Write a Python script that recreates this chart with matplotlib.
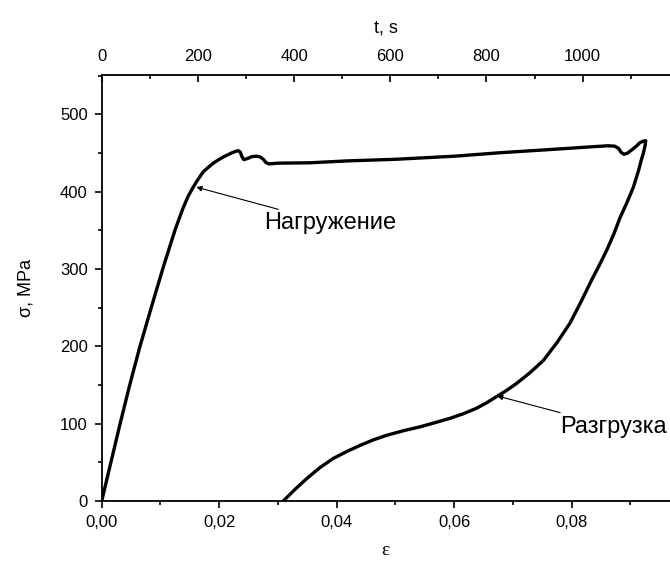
import matplotlib
matplotlib.use("Agg")
import matplotlib.pyplot as plt
from matplotlib.ticker import MultipleLocator, FuncFormatter

# Strain (ε) and stress (σ, MPa) along the loading-unloading path
strain = [0.0, 0.0015, 0.0031, 0.0047, 0.0064, 0.0085, 0.0105, 0.0125, 0.0138,
          0.0147, 0.0155, 0.0163, 0.0173, 0.0182, 0.0190, 0.0198, 0.0207, 0.0215,
          0.0222, 0.0229, 0.0233, 0.0236, 0.0239, 0.0242, 0.0248, 0.0256, 0.0264,
          0.0270, 0.0275, 0.0280, 0.0285, 0.0292, 0.0300, 0.0355, 0.0420, 0.0500,
          0.0600, 0.0678, 0.0740, 0.0791, 0.0830, 0.0862, 0.0873, 0.0880, 0.0884,
          0.0889, 0.0895, 0.0902, 0.0910, 0.0916, 0.0922, 0.0926, 0.0925, 0.0922,
          0.0918, 0.0914, 0.0905, 0.0894, 0.0882, 0.0872, 0.0860, 0.0847, 0.0834,
          0.0816, 0.0797, 0.0775, 0.0752, 0.0729, 0.0706, 0.0689, 0.0672, 0.0655,
          0.0638, 0.0616, 0.0593, 0.0568, 0.0542, 0.0514, 0.0485, 0.0462, 0.0440,
          0.0417, 0.0394, 0.0371, 0.0349, 0.0329, 0.0309]
stress = [0, 48, 99, 148, 197, 252, 303, 351, 378,
          394, 405, 415, 426, 432, 437, 441, 445, 448,
          450.5, 452.5, 453, 451, 445, 441.5, 443, 445.5, 446,
          445, 442, 437.5, 436, 436.5, 437, 437.5, 440, 442,
          446, 450.5, 453.5, 456, 458, 459.5, 459, 456, 451,
          448.5, 450, 454, 459, 463.5, 465.5, 466, 460, 450,
          440, 428, 406, 386, 366, 346, 325, 305, 286,
          258, 230, 205, 182, 166, 152, 143, 135, 127,
          120, 113, 107, 101.5, 96, 91, 85, 79, 72,
          64, 55, 43, 29, 15, 0]

x_ticks = [0.00, 0.02, 0.04, 0.06, 0.08]
y_ticks = [0, 100, 200, 300, 400, 500]
t_ticks = [0, 200, 400, 600, 800, 1000]
t_per_strain = 12215.0

label_load = "Нагружение"
label_unload = "Разгрузка"

plt.rcParams['font.family'] = ['Liberation Sans', 'DejaVu Sans']

fig = plt.figure(figsize=(6.7, 5.62), dpi=100)
ax = fig.add_axes([0.1518, 0.1085, 0.8482, 0.758])

ax.plot(strain, stress, color='black', lw=2.4, solid_joinstyle='round',
        solid_capstyle='round')

ax.set_xlim(0, 0.09673)
ax.set_ylim(0, 551)

ax.set_xticks(x_ticks)
ax.xaxis.set_minor_locator(MultipleLocator(0.01))
ax.set_yticks(y_ticks)
ax.yaxis.set_minor_locator(MultipleLocator(50))
ax.xaxis.set_major_formatter(FuncFormatter(lambda v, p: f"{v:.2f}".replace('.', ',')))

for s in ['left', 'bottom', 'top']:
    ax.spines[s].set_linewidth(1.3)
ax.spines['right'].set_visible(False)
ax.spines['top'].set_visible(False)

ax.tick_params(axis='both', which='major', direction='out', length=5, width=1.2,
               labelsize=12, pad=5)
ax.tick_params(axis='both', which='minor', direction='out', length=3, width=1.2)

sec = ax.secondary_xaxis('top', functions=(lambda e: e * t_per_strain,
                                           lambda t: t / t_per_strain))
sec.set_xticks(t_ticks)
sec.xaxis.set_minor_locator(MultipleLocator(100))
sec.spines['top'].set_linewidth(1.3)
sec.tick_params(axis='x', which='major', direction='in', length=5, width=1.2,
                labelsize=12, pad=8)
sec.tick_params(axis='x', which='minor', direction='in', length=3, width=1.2)
sec.set_xlabel("t, s", fontsize=13, labelpad=12)

ax.set_xlabel("ε", fontsize=14, family=['Liberation Serif', 'DejaVu Serif'], labelpad=9)
ax.set_ylabel("σ, MPa", fontsize=13, labelpad=18)

ax.annotate(label_load, xy=(0.0161, 406), xytext=(0.0277, 359),
            fontsize=17, va='center', ha='left',
            arrowprops=dict(arrowstyle='-|>', color='black', lw=0.8,
                            mutation_scale=8, shrinkA=1, shrinkB=0))
ax.annotate(label_unload, xy=(0.0673, 136), xytext=(0.0780, 96),
            fontsize=17, va='center', ha='left',
            arrowprops=dict(arrowstyle='-|>', color='black', lw=0.8,
                            mutation_scale=8, shrinkA=1, shrinkB=0))

fig.savefig("out.png", dpi=100)
